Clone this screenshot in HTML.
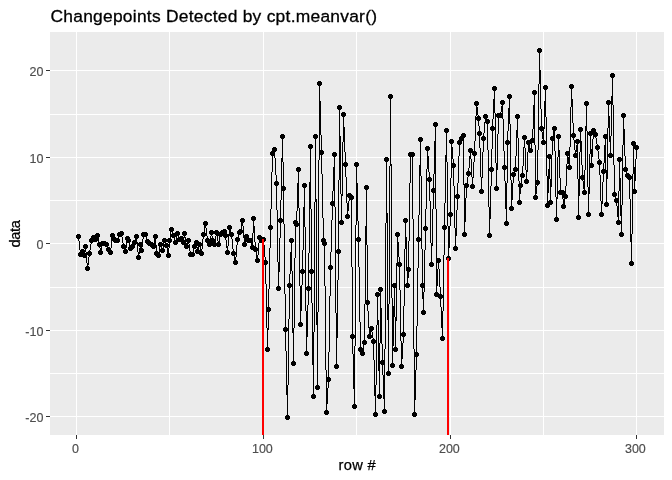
<!DOCTYPE html>
<html lang="en"><head><meta charset="utf-8"><title>Changepoints Detected by cpt.meanvar()</title>
<style>html,body{margin:0;padding:0;background:#fff;overflow:hidden}svg{display:block}text{font-family:"Liberation Sans",Arial,sans-serif}</style></head><body>
<svg width="672" height="480" viewBox="0 0 672 480">
<rect width="672" height="480" fill="#fff"/>
<rect x="50" y="32" width="614" height="403" fill="#ebebeb"/>
<path fill="#fff" d="M50 373h614v1h-614zM50 287h614v1h-614zM50 200h614v1h-614zM50 114h614v1h-614zM50 416h614v1h-614zM50 330h614v1h-614zM50 243h614v1h-614zM50 157h614v1h-614zM50 70h614v1h-614zM169 32h1v403h-1zM356 32h1v403h-1zM543 32h1v403h-1zM76 32h1v403h-1zM263 32h1v403h-1zM450 32h1v403h-1zM636 32h1v403h-1z"/>
<path fill="#000" d="M78 236h1v5h-1zM79 241h1v9h-1zM80 250h1v5h-1zM81 252h1v2h-1zM82 251h1v1h-1zM83 252h1v2h-1zM84 251h1v5h-1zM85 246h1v6h-1zM86 252h1v11h-1zM87 263h1v6h-1zM88 257h1v8h-1zM89 250h1v7h-1zM90 244h1v6h-1zM91 240h1v4h-1zM92 238h1v2h-1zM93 237h1v1h-1zM94 238h1v1h-1zM95 239h1v1h-1zM96 237h1v2h-1zM97 235h1v3h-1zM98 238h1v4h-1zM99 242h1v6h-1zM100 248h1v5h-1zM101 246h1v4h-1zM102 243h1v3h-1zM103 243h1v1h-1zM104 243h1v1h-1zM105 244h1v1h-1zM106 244h1v2h-1zM107 246h1v2h-1zM108 248h1v2h-1zM109 250h1v2h-1zM110 248h1v5h-1zM111 240h1v8h-1zM112 235h1v5h-1zM113 237h1v2h-1zM114 239h1v1h-1zM115 240h1v1h-1zM116 240h1v1h-1zM117 239h1v2h-1zM118 236h1v3h-1zM119 234h1v2h-1zM120 233h1v1h-1zM121 233h1v4h-1zM122 237h1v6h-1zM123 243h1v5h-1zM124 248h1v2h-1zM125 248h1v4h-1zM126 242h1v6h-1zM127 238h1v4h-1zM128 239h1v3h-1zM129 242h1v4h-1zM130 246h1v3h-1zM131 247h1v1h-1zM132 246h1v1h-1zM133 244h1v2h-1zM134 241h1v3h-1zM135 238h1v3h-1zM136 236h1v6h-1zM137 242h1v10h-1zM138 252h1v6h-1zM139 248h1v6h-1zM140 244h1v4h-1zM141 247h1v4h-1zM142 239h1v8h-1zM143 234h1v5h-1zM144 234h1v1h-1zM145 234h1v2h-1zM146 236h1v4h-1zM147 240h1v2h-1zM148 242h1v1h-1zM149 243h1v1h-1zM150 244h1v1h-1zM151 244h1v1h-1zM152 245h1v1h-1zM153 244h1v3h-1zM154 239h1v5h-1zM155 236h1v9h-1zM156 245h1v9h-1zM157 254h1v1h-1zM158 253h1v3h-1zM159 247h1v6h-1zM160 244h1v3h-1zM161 246h1v3h-1zM162 248h1v3h-1zM163 243h1v5h-1zM164 240h1v3h-1zM165 242h1v2h-1zM166 244h1v4h-1zM167 248h1v5h-1zM168 248h1v8h-1zM169 238h1v10h-1zM170 232h1v6h-1zM171 229h1v3h-1zM172 231h1v3h-1zM173 234h1v3h-1zM174 237h1v4h-1zM175 240h1v3h-1zM176 236h1v4h-1zM177 233h1v3h-1zM178 235h1v3h-1zM179 238h1v2h-1zM180 238h1v1h-1zM181 238h1v1h-1zM182 239h1v2h-1zM183 238h1v5h-1zM184 233h1v5h-1zM185 237h1v6h-1zM186 243h1v4h-1zM187 242h1v3h-1zM188 240h1v4h-1zM189 244h1v7h-1zM190 251h1v4h-1zM191 254h1v1h-1zM192 253h1v2h-1zM193 249h1v4h-1zM194 246h1v3h-1zM195 244h1v2h-1zM196 242h1v5h-1zM197 247h1v5h-1zM198 246h1v4h-1zM199 244h1v3h-1zM200 247h1v4h-1zM201 249h1v5h-1zM202 239h1v10h-1zM203 232h1v7h-1zM204 226h1v6h-1zM205 223h1v5h-1zM206 228h1v8h-1zM207 236h1v5h-1zM208 241h1v2h-1zM209 242h1v3h-1zM210 236h1v6h-1zM211 232h1v4h-1zM212 236h1v5h-1zM213 241h1v2h-1zM214 242h1v3h-1zM215 236h1v6h-1zM216 232h1v4h-1zM217 235h1v6h-1zM218 241h1v4h-1zM219 237h1v5h-1zM220 234h1v3h-1zM221 233h1v1h-1zM222 232h1v1h-1zM223 231h1v1h-1zM224 231h1v2h-1zM225 233h1v7h-1zM226 240h1v8h-1zM227 246h1v7h-1zM228 234h1v12h-1zM229 227h1v7h-1zM230 229h1v4h-1zM231 233h1v6h-1zM232 239h1v10h-1zM233 249h1v7h-1zM234 256h1v4h-1zM235 257h1v6h-1zM236 245h1v12h-1zM237 238h1v7h-1zM238 234h1v4h-1zM239 232h1v2h-1zM240 229h1v3h-1zM241 223h1v6h-1zM242 220h1v6h-1zM243 226h1v12h-1zM244 238h1v7h-1zM245 239h1v4h-1zM246 236h1v3h-1zM247 237h1v2h-1zM248 239h1v2h-1zM249 240h1v1h-1zM250 240h1v2h-1zM251 242h1v4h-1zM252 233h1v15h-1zM253 218h1v15h-1zM254 226h1v16h-1zM255 242h1v10h-1zM256 252h1v6h-1zM257 255h1v6h-1zM258 243h1v12h-1zM259 237h1v6h-1zM260 238h1v2h-1zM261 240h1v1h-1zM262 239h1v1h-1zM263 239h1v6h-1zM264 245h1v12h-1zM265 257h1v27h-1zM266 284h1v44h-1zM267 328h1v22h-1zM268 289h1v41h-1zM269 248h1v41h-1zM270 209h1v39h-1zM271 172h1v37h-1zM272 153h1v19h-1zM273 151h1v2h-1zM274 149h1v9h-1zM275 158h1v17h-1zM276 175h1v35h-1zM277 210h1v52h-1zM278 262h1v27h-1zM279 238h1v34h-1zM280 200h1v38h-1zM281 158h1v42h-1zM282 136h1v26h-1zM283 162h1v62h-1zM284 224h1v70h-1zM285 294h1v57h-1zM286 351h1v44h-1zM287 385h1v33h-1zM288 319h1v66h-1zM289 274h1v45h-1zM290 252h1v22h-1zM291 240h1v31h-1zM292 271h1v62h-1zM293 328h1v36h-1zM294 258h1v70h-1zM295 222h1v36h-1zM296 211h1v14h-1zM297 183h1v28h-1zM298 169h1v39h-1zM299 208h1v78h-1zM300 286h1v39h-1zM301 285h1v26h-1zM302 250h1v35h-1zM303 207h1v43h-1zM304 185h1v42h-1zM305 227h1v84h-1zM306 311h1v43h-1zM307 305h1v32h-1zM308 253h1v52h-1zM309 182h1v71h-1zM310 146h1v63h-1zM311 209h1v94h-1zM312 303h1v62h-1zM313 332h1v65h-1zM314 202h1v130h-1zM315 136h1v66h-1zM316 199h1v126h-1zM317 312h1v76h-1zM318 160h1v152h-1zM319 83h1v77h-1zM320 101h1v34h-1zM321 135h1v39h-1zM322 174h1v44h-1zM323 218h1v24h-1zM324 242h1v44h-1zM325 286h1v84h-1zM326 370h1v43h-1zM327 388h1v16h-1zM328 352h1v36h-1zM329 296h1v56h-1zM330 252h1v44h-1zM331 220h1v32h-1zM332 191h1v29h-1zM333 167h1v24h-1zM334 154h1v53h-1zM335 207h1v106h-1zM336 313h1v54h-1zM337 280h1v58h-1zM338 180h1v100h-1zM339 107h1v73h-1zM340 136h1v58h-1zM341 194h1v29h-1zM342 142h1v54h-1zM343 114h1v28h-1zM344 127h1v25h-1zM345 152h1v25h-1zM346 177h1v26h-1zM347 203h1v14h-1zM348 201h1v10h-1zM349 195h1v6h-1zM350 196h1v1h-1zM351 197h1v70h-1zM352 267h1v87h-1zM353 354h1v35h-1zM354 346h1v61h-1zM355 225h1v121h-1zM356 164h1v61h-1zM357 183h1v38h-1zM358 221h1v46h-1zM359 267h1v55h-1zM360 322h1v28h-1zM361 350h1v2h-1zM362 351h1v3h-1zM363 345h1v6h-1zM364 304h1v41h-1zM365 226h1v78h-1zM366 187h1v58h-1zM367 245h1v66h-1zM368 311h1v17h-1zM369 328h1v9h-1zM370 331h1v4h-1zM371 328h1v4h-1zM372 332h1v6h-1zM373 338h1v22h-1zM374 360h1v36h-1zM375 385h1v30h-1zM376 325h1v60h-1zM377 294h1v31h-1zM378 320h1v51h-1zM379 343h1v54h-1zM380 289h1v54h-1zM381 308h1v36h-1zM382 344h1v31h-1zM383 375h1v24h-1zM384 349h1v63h-1zM385 223h1v126h-1zM386 159h1v64h-1zM387 213h1v107h-1zM388 304h1v70h-1zM389 166h1v138h-1zM390 96h1v70h-1zM391 164h1v134h-1zM392 298h1v68h-1zM393 306h1v40h-1zM394 285h1v32h-1zM395 317h1v33h-1zM396 263h1v58h-1zM397 234h1v29h-1zM398 242h1v15h-1zM399 257h1v33h-1zM400 290h1v51h-1zM401 341h1v26h-1zM402 343h1v16h-1zM403 306h1v37h-1zM404 249h1v57h-1zM405 220h1v29h-1zM406 237h1v32h-1zM407 269h1v17h-1zM408 241h1v37h-1zM409 183h1v58h-1zM410 154h1v29h-1zM411 154h1v1h-1zM412 154h1v65h-1zM413 219h1v130h-1zM414 349h1v66h-1zM415 370h1v30h-1zM416 326h1v44h-1zM417 268h1v58h-1zM418 215h1v53h-1zM419 165h1v50h-1zM420 139h1v37h-1zM421 176h1v73h-1zM422 249h1v50h-1zM423 292h1v21h-1zM424 250h1v42h-1zM425 209h1v41h-1zM426 169h1v40h-1zM427 148h1v21h-1zM428 156h1v16h-1zM429 172h1v29h-1zM430 201h1v42h-1zM431 243h1v22h-1zM432 209h1v37h-1zM433 174h1v35h-1zM434 141h1v33h-1zM435 124h1v85h-1zM436 209h1v86h-1zM437 269h1v17h-1zM438 260h1v9h-1zM439 269h1v18h-1zM440 287h1v20h-1zM441 307h1v21h-1zM442 311h1v28h-1zM443 255h1v56h-1zM444 203h1v52h-1zM445 155h1v48h-1zM446 130h1v32h-1zM447 162h1v64h-1zM448 226h1v33h-1zM449 226h1v22h-1zM450 178h1v48h-1zM451 141h1v37h-1zM452 147h1v12h-1zM453 159h1v27h-1zM454 186h1v42h-1zM455 228h1v21h-1zM456 210h1v26h-1zM457 183h1v27h-1zM458 156h1v27h-1zM459 142h1v14h-1zM460 140h1v2h-1zM461 138h1v2h-1zM462 136h1v2h-1zM463 135h1v50h-1zM464 185h1v50h-1zM465 198h1v24h-1zM466 183h1v15h-1zM467 177h1v6h-1zM468 168h1v9h-1zM469 156h1v12h-1zM470 150h1v9h-1zM471 159h1v18h-1zM472 177h1v10h-1zM473 162h1v16h-1zM474 141h1v21h-1zM475 116h1v25h-1zM476 103h1v13h-1zM477 107h1v8h-1zM478 115h1v11h-1zM479 126h1v22h-1zM480 148h1v29h-1zM481 177h1v15h-1zM482 152h1v26h-1zM483 133h1v19h-1zM484 122h1v11h-1zM485 116h1v6h-1zM486 118h1v2h-1zM487 120h1v30h-1zM488 150h1v57h-1zM489 207h1v29h-1zM490 186h1v33h-1zM491 149h1v37h-1zM492 119h1v30h-1zM493 99h1v20h-1zM494 88h1v25h-1zM495 113h1v50h-1zM496 163h1v26h-1zM497 134h1v36h-1zM498 115h1v19h-1zM499 115h1v1h-1zM500 112h1v4h-1zM501 106h1v6h-1zM502 102h1v17h-1zM503 119h1v32h-1zM504 151h1v30h-1zM505 181h1v28h-1zM506 183h1v41h-1zM507 131h1v52h-1zM508 108h1v23h-1zM509 96h1v28h-1zM510 124h1v56h-1zM511 180h1v29h-1zM512 183h1v17h-1zM513 173h1v10h-1zM514 171h1v2h-1zM515 156h1v15h-1zM516 130h1v26h-1zM517 116h1v22h-1zM518 138h1v43h-1zM519 181h1v22h-1zM520 183h1v11h-1zM521 178h1v5h-1zM522 166h1v12h-1zM523 147h1v19h-1zM524 137h1v11h-1zM525 148h1v22h-1zM526 170h1v12h-1zM527 152h1v20h-1zM528 142h1v10h-1zM529 144h1v4h-1zM530 148h1v3h-1zM531 143h1v5h-1zM532 129h1v14h-1zM533 105h1v24h-1zM534 92h1v53h-1zM535 145h1v53h-1zM536 186h1v8h-1zM537 150h1v36h-1zM538 84h1v66h-1zM539 50h1v34h-1zM540 70h1v39h-1zM541 109h1v23h-1zM542 132h1v7h-1zM543 129h1v14h-1zM544 101h1v28h-1zM545 87h1v30h-1zM546 117h1v59h-1zM547 176h1v30h-1zM548 169h1v24h-1zM549 156h1v23h-1zM550 179h1v24h-1zM551 155h1v32h-1zM552 136h1v19h-1zM553 131h1v5h-1zM554 128h1v23h-1zM555 151h1v46h-1zM556 197h1v23h-1zM557 157h1v42h-1zM558 136h1v21h-1zM559 150h1v28h-1zM560 178h1v15h-1zM561 192h1v1h-1zM562 192h1v7h-1zM563 199h1v8h-1zM564 199h1v5h-1zM565 186h1v13h-1zM566 164h1v22h-1zM567 153h1v11h-1zM568 157h1v7h-1zM569 147h1v21h-1zM570 107h1v40h-1zM571 86h1v21h-1zM572 99h1v24h-1zM573 123h1v17h-1zM574 140h1v10h-1zM575 150h1v6h-1zM576 145h1v7h-1zM577 141h1v38h-1zM578 179h1v39h-1zM579 152h1v44h-1zM580 129h1v23h-1zM581 141h1v24h-1zM582 165h1v16h-1zM583 181h1v8h-1zM584 170h1v23h-1zM585 126h1v44h-1zM586 103h1v28h-1zM587 131h1v56h-1zM588 187h1v28h-1zM589 154h1v40h-1zM590 133h1v21h-1zM591 149h1v17h-1zM592 139h1v18h-1zM593 130h1v9h-1zM594 131h1v2h-1zM595 133h1v5h-1zM596 138h1v6h-1zM597 144h1v7h-1zM598 151h1v8h-1zM599 159h1v16h-1zM600 175h1v26h-1zM601 201h1v14h-1zM602 182h1v22h-1zM603 163h1v19h-1zM604 145h1v18h-1zM605 136h1v34h-1zM606 170h1v35h-1zM607 128h1v51h-1zM608 102h1v26h-1zM609 116h1v26h-1zM610 136h1v20h-1zM611 96h1v40h-1zM612 75h1v30h-1zM613 105h1v60h-1zM614 165h1v31h-1zM615 196h1v3h-1zM616 199h1v7h-1zM617 206h1v11h-1zM618 191h1v32h-1zM619 159h1v32h-1zM620 178h1v38h-1zM621 205h1v30h-1zM622 145h1v60h-1zM623 115h1v30h-1zM624 129h1v27h-1zM625 156h1v15h-1zM626 171h1v3h-1zM627 174h1v2h-1zM628 176h1v1h-1zM629 177h1v22h-1zM630 199h1v43h-1zM631 234h1v30h-1zM632 174h1v60h-1zM633 143h1v31h-1zM634 167h1v25h-1zM635 159h1v22h-1zM636 147h1v12h-1z"/>
<path fill="#000" d="M76 235h5v3h-5zM77 234h3v5h-3zM78 253h5v3h-5zM79 252h3v5h-3zM80 250h5v3h-5zM81 249h3v5h-3zM82 254h5v3h-5zM83 253h3v5h-3zM83 245h5v3h-5zM84 244h3v5h-3zM85 267h5v3h-5zM86 266h3v5h-3zM87 252h5v3h-5zM88 251h3v5h-3zM89 239h5v3h-5zM90 238h3v5h-3zM91 236h5v3h-5zM92 235h3v5h-3zM93 238h5v3h-5zM94 237h3v5h-3zM95 234h5v3h-5zM96 233h3v5h-3zM97 243h5v3h-5zM98 242h3v5h-3zM98 251h5v3h-5zM99 250h3v5h-3zM100 242h5v3h-5zM101 241h3v5h-3zM102 242h5v3h-5zM103 241h3v5h-3zM104 243h5v3h-5zM105 242h3v5h-3zM106 248h5v3h-5zM107 247h3v5h-3zM108 251h5v3h-5zM109 250h3v5h-3zM110 234h5v3h-5zM111 233h3v5h-3zM111 237h5v3h-5zM112 236h3v5h-3zM113 239h5v3h-5zM114 238h3v5h-3zM115 239h5v3h-5zM116 238h3v5h-3zM117 233h5v3h-5zM118 232h3v5h-3zM119 232h5v3h-5zM120 231h3v5h-3zM121 245h5v3h-5zM122 244h3v5h-3zM123 250h5v3h-5zM124 249h3v5h-3zM125 237h5v3h-5zM126 236h3v5h-3zM126 239h5v3h-5zM127 238h3v5h-3zM128 247h5v3h-5zM129 246h3v5h-3zM130 245h5v3h-5zM131 244h3v5h-3zM132 241h5v3h-5zM133 240h3v5h-3zM134 235h5v3h-5zM135 234h3v5h-3zM136 256h5v3h-5zM137 255h3v5h-3zM138 243h5v3h-5zM139 242h3v5h-3zM139 249h5v3h-5zM140 248h3v5h-3zM141 233h5v3h-5zM142 232h3v5h-3zM143 233h5v3h-5zM144 232h3v5h-3zM145 240h5v3h-5zM146 239h3v5h-3zM147 242h5v3h-5zM148 241h3v5h-3zM149 243h5v3h-5zM150 242h3v5h-3zM151 245h5v3h-5zM152 244h3v5h-3zM153 235h5v3h-5zM154 234h3v5h-3zM154 252h5v3h-5zM155 251h3v5h-3zM156 254h5v3h-5zM157 253h3v5h-3zM158 243h5v3h-5zM159 242h3v5h-3zM160 249h5v3h-5zM161 248h3v5h-3zM162 239h5v3h-5zM163 238h3v5h-3zM164 244h5v3h-5zM165 243h3v5h-3zM166 254h5v3h-5zM167 253h3v5h-3zM167 239h5v3h-5zM168 238h3v5h-3zM169 228h5v3h-5zM170 227h3v5h-3zM171 234h5v3h-5zM172 233h3v5h-3zM173 241h5v3h-5zM174 240h3v5h-3zM175 232h5v3h-5zM176 231h3v5h-3zM177 238h5v3h-5zM178 237h3v5h-3zM179 237h5v3h-5zM180 236h3v5h-3zM181 241h5v3h-5zM182 240h3v5h-3zM182 232h5v3h-5zM183 231h3v5h-3zM184 245h5v3h-5zM185 244h3v5h-3zM186 239h5v3h-5zM187 238h3v5h-3zM188 253h5v3h-5zM189 252h3v5h-3zM190 253h5v3h-5zM191 252h3v5h-3zM192 245h5v3h-5zM193 244h3v5h-3zM194 241h5v3h-5zM195 240h3v5h-3zM195 250h5v3h-5zM196 249h3v5h-3zM197 243h5v3h-5zM198 242h3v5h-3zM199 252h5v3h-5zM200 251h3v5h-3zM201 233h5v3h-5zM202 232h3v5h-3zM203 222h5v3h-5zM204 221h3v5h-3zM205 239h5v3h-5zM206 238h3v5h-3zM207 243h5v3h-5zM208 242h3v5h-3zM209 231h5v3h-5zM210 230h3v5h-3zM210 239h5v3h-5zM211 238h3v5h-3zM212 243h5v3h-5zM213 242h3v5h-3zM214 231h5v3h-5zM215 230h3v5h-3zM216 243h5v3h-5zM217 242h3v5h-3zM218 233h5v3h-5zM219 232h3v5h-3zM220 231h5v3h-5zM221 230h3v5h-3zM222 230h5v3h-5zM223 229h3v5h-3zM223 234h5v3h-5zM224 233h3v5h-3zM225 251h5v3h-5zM226 250h3v5h-3zM227 226h5v3h-5zM228 225h3v5h-3zM229 233h5v3h-5zM230 232h3v5h-3zM231 252h5v3h-5zM232 251h3v5h-3zM233 261h5v3h-5zM234 260h3v5h-3zM235 238h5v3h-5zM236 237h3v5h-3zM237 231h5v3h-5zM238 230h3v5h-3zM238 230h5v3h-5zM239 229h3v5h-3zM240 219h5v3h-5zM241 218h3v5h-3zM242 243h5v3h-5zM243 242h3v5h-3zM244 235h5v3h-5zM245 234h3v5h-3zM246 239h5v3h-5zM247 238h3v5h-3zM248 239h5v3h-5zM249 238h3v5h-3zM250 246h5v3h-5zM251 245h3v5h-3zM251 217h5v3h-5zM252 216h3v5h-3zM253 248h5v3h-5zM254 247h3v5h-3zM255 259h5v3h-5zM256 258h3v5h-3zM257 236h5v3h-5zM258 235h3v5h-3zM259 239h5v3h-5zM260 238h3v5h-3zM261 238h5v3h-5zM262 237h3v5h-3zM263 261h5v3h-5zM264 260h3v5h-3zM265 348h5v3h-5zM266 347h3v5h-3zM266 308h5v3h-5zM267 307h3v5h-3zM268 226h5v3h-5zM269 225h3v5h-3zM270 152h5v3h-5zM271 151h3v5h-3zM272 148h5v3h-5zM273 147h3v5h-3zM274 182h5v3h-5zM275 181h3v5h-3zM276 287h5v3h-5zM277 286h3v5h-3zM278 219h5v3h-5zM279 218h3v5h-3zM280 135h5v3h-5zM281 134h3v5h-3zM281 187h5v3h-5zM282 186h3v5h-3zM283 328h5v3h-5zM284 327h3v5h-3zM285 416h5v3h-5zM286 415h3v5h-3zM287 284h5v3h-5zM288 283h3v5h-3zM289 239h5v3h-5zM290 238h3v5h-3zM291 362h5v3h-5zM292 361h3v5h-3zM293 221h5v3h-5zM294 220h3v5h-3zM294 223h5v3h-5zM295 222h3v5h-3zM296 168h5v3h-5zM297 167h3v5h-3zM298 323h5v3h-5zM299 322h3v5h-3zM300 270h5v3h-5zM301 269h3v5h-3zM302 184h5v3h-5zM303 183h3v5h-3zM304 352h5v3h-5zM305 351h3v5h-3zM306 287h5v3h-5zM307 286h3v5h-3zM308 145h5v3h-5zM309 144h3v5h-3zM309 270h5v3h-5zM310 269h3v5h-3zM311 395h5v3h-5zM312 394h3v5h-3zM313 135h5v3h-5zM314 134h3v5h-3zM315 386h5v3h-5zM316 385h3v5h-3zM317 82h5v3h-5zM318 81h3v5h-3zM319 151h5v3h-5zM320 150h3v5h-3zM321 239h5v3h-5zM322 238h3v5h-3zM322 242h5v3h-5zM323 241h3v5h-3zM324 411h5v3h-5zM325 410h3v5h-3zM326 378h5v3h-5zM327 377h3v5h-3zM328 266h5v3h-5zM329 265h3v5h-3zM330 202h5v3h-5zM331 201h3v5h-3zM332 153h5v3h-5zM333 152h3v5h-3zM334 365h5v3h-5zM335 364h3v5h-3zM336 250h5v3h-5zM337 249h3v5h-3zM337 106h5v3h-5zM338 105h3v5h-3zM339 221h5v3h-5zM340 220h3v5h-3zM341 113h5v3h-5zM342 112h3v5h-3zM343 163h5v3h-5zM344 162h3v5h-3zM345 215h5v3h-5zM346 214h3v5h-3zM347 194h5v3h-5zM348 193h3v5h-3zM349 196h5v3h-5zM350 195h3v5h-3zM350 335h5v3h-5zM351 334h3v5h-3zM352 405h5v3h-5zM353 404h3v5h-3zM354 163h5v3h-5zM355 162h3v5h-3zM356 238h5v3h-5zM357 237h3v5h-3zM358 348h5v3h-5zM359 347h3v5h-3zM360 352h5v3h-5zM361 351h3v5h-3zM362 341h5v3h-5zM363 340h3v5h-3zM364 186h5v3h-5zM365 185h3v5h-3zM365 301h5v3h-5zM366 300h3v5h-3zM367 335h5v3h-5zM368 334h3v5h-3zM369 327h5v3h-5zM370 326h3v5h-3zM371 340h5v3h-5zM372 339h3v5h-3zM373 413h5v3h-5zM374 412h3v5h-3zM375 293h5v3h-5zM376 292h3v5h-3zM377 395h5v3h-5zM378 394h3v5h-3zM378 288h5v3h-5zM379 287h3v5h-3zM380 361h5v3h-5zM381 360h3v5h-3zM382 410h5v3h-5zM383 409h3v5h-3zM384 158h5v3h-5zM385 157h3v5h-3zM386 372h5v3h-5zM387 371h3v5h-3zM388 95h5v3h-5zM389 94h3v5h-3zM390 364h5v3h-5zM391 363h3v5h-3zM392 284h5v3h-5zM393 283h3v5h-3zM393 348h5v3h-5zM394 347h3v5h-3zM395 233h5v3h-5zM396 232h3v5h-3zM397 263h5v3h-5zM398 262h3v5h-3zM399 365h5v3h-5zM400 364h3v5h-3zM401 333h5v3h-5zM402 332h3v5h-3zM403 219h5v3h-5zM404 218h3v5h-3zM405 284h5v3h-5zM406 283h3v5h-3zM406 268h5v3h-5zM407 267h3v5h-3zM408 153h5v3h-5zM409 152h3v5h-3zM410 153h5v3h-5zM411 152h3v5h-3zM412 413h5v3h-5zM413 412h3v5h-3zM414 353h5v3h-5zM415 352h3v5h-3zM416 238h5v3h-5zM417 237h3v5h-3zM418 138h5v3h-5zM419 137h3v5h-3zM420 284h5v3h-5zM421 283h3v5h-3zM421 311h5v3h-5zM422 310h3v5h-3zM423 227h5v3h-5zM424 226h3v5h-3zM425 147h5v3h-5zM426 146h3v5h-3zM427 178h5v3h-5zM428 177h3v5h-3zM429 263h5v3h-5zM430 262h3v5h-3zM431 189h5v3h-5zM432 188h3v5h-3zM433 123h5v3h-5zM434 122h3v5h-3zM434 293h5v3h-5zM435 292h3v5h-3zM436 259h5v3h-5zM437 258h3v5h-3zM438 295h5v3h-5zM439 294h3v5h-3zM440 337h5v3h-5zM441 336h3v5h-3zM442 226h5v3h-5zM443 225h3v5h-3zM444 129h5v3h-5zM445 128h3v5h-3zM446 257h5v3h-5zM447 256h3v5h-3zM448 213h5v3h-5zM449 212h3v5h-3zM449 140h5v3h-5zM450 139h3v5h-3zM451 164h5v3h-5zM452 163h3v5h-3zM453 247h5v3h-5zM454 246h3v5h-3zM455 195h5v3h-5zM456 194h3v5h-3zM457 141h5v3h-5zM458 140h3v5h-3zM459 137h5v3h-5zM460 136h3v5h-3zM461 134h5v3h-5zM462 133h3v5h-3zM462 233h5v3h-5zM463 232h3v5h-3zM464 184h5v3h-5zM465 183h3v5h-3zM466 172h5v3h-5zM467 171h3v5h-3zM468 149h5v3h-5zM469 148h3v5h-3zM470 185h5v3h-5zM471 184h3v5h-3zM472 152h5v3h-5zM473 151h3v5h-3zM474 102h5v3h-5zM475 101h3v5h-3zM476 117h5v3h-5zM477 116h3v5h-3zM477 132h5v3h-5zM478 131h3v5h-3zM479 190h5v3h-5zM480 189h3v5h-3zM481 137h5v3h-5zM482 136h3v5h-3zM483 115h5v3h-5zM484 114h3v5h-3zM485 120h5v3h-5zM486 119h3v5h-3zM487 234h5v3h-5zM488 233h3v5h-3zM489 168h5v3h-5zM490 167h3v5h-3zM490 127h5v3h-5zM491 126h3v5h-3zM492 87h5v3h-5zM493 86h3v5h-3zM494 187h5v3h-5zM495 186h3v5h-3zM496 114h5v3h-5zM497 113h3v5h-3zM498 114h5v3h-5zM499 113h3v5h-3zM500 101h5v3h-5zM501 100h3v5h-3zM502 166h5v3h-5zM503 165h3v5h-3zM504 222h5v3h-5zM505 221h3v5h-3zM505 141h5v3h-5zM506 140h3v5h-3zM507 95h5v3h-5zM508 94h3v5h-3zM509 207h5v3h-5zM510 206h3v5h-3zM511 173h5v3h-5zM512 172h3v5h-3zM513 168h5v3h-5zM514 167h3v5h-3zM515 115h5v3h-5zM516 114h3v5h-3zM517 201h5v3h-5zM518 200h3v5h-3zM518 184h5v3h-5zM519 183h3v5h-3zM520 174h5v3h-5zM521 173h3v5h-3zM522 136h5v3h-5zM523 135h3v5h-3zM524 180h5v3h-5zM525 179h3v5h-3zM526 141h5v3h-5zM527 140h3v5h-3zM528 149h5v3h-5zM529 148h3v5h-3zM530 139h5v3h-5zM531 138h3v5h-3zM532 91h5v3h-5zM533 90h3v5h-3zM533 196h5v3h-5zM534 195h3v5h-3zM535 181h5v3h-5zM536 180h3v5h-3zM537 49h5v3h-5zM538 48h3v5h-3zM539 127h5v3h-5zM540 126h3v5h-3zM541 141h5v3h-5zM542 140h3v5h-3zM543 86h5v3h-5zM544 85h3v5h-3zM545 204h5v3h-5zM546 203h3v5h-3zM547 155h5v3h-5zM548 154h3v5h-3zM548 201h5v3h-5zM549 200h3v5h-3zM550 137h5v3h-5zM551 136h3v5h-3zM552 127h5v3h-5zM553 126h3v5h-3zM554 218h5v3h-5zM555 217h3v5h-3zM556 135h5v3h-5zM557 134h3v5h-3zM558 191h5v3h-5zM559 190h3v5h-3zM560 191h5v3h-5zM561 190h3v5h-3zM561 205h5v3h-5zM562 204h3v5h-3zM563 195h5v3h-5zM564 194h3v5h-3zM565 152h5v3h-5zM566 151h3v5h-3zM567 166h5v3h-5zM568 165h3v5h-3zM569 85h5v3h-5zM570 84h3v5h-3zM571 134h5v3h-5zM572 133h3v5h-3zM573 154h5v3h-5zM574 153h3v5h-3zM575 140h5v3h-5zM576 139h3v5h-3zM576 216h5v3h-5zM577 215h3v5h-3zM578 128h5v3h-5zM579 127h3v5h-3zM580 176h5v3h-5zM581 175h3v5h-3zM582 191h5v3h-5zM583 190h3v5h-3zM584 102h5v3h-5zM585 101h3v5h-3zM586 213h5v3h-5zM587 212h3v5h-3zM588 132h5v3h-5zM589 131h3v5h-3zM589 164h5v3h-5zM590 163h3v5h-3zM591 129h5v3h-5zM592 128h3v5h-3zM593 133h5v3h-5zM594 132h3v5h-3zM595 146h5v3h-5zM596 145h3v5h-3zM597 161h5v3h-5zM598 160h3v5h-3zM599 213h5v3h-5zM600 212h3v5h-3zM601 170h5v3h-5zM602 169h3v5h-3zM603 135h5v3h-5zM604 134h3v5h-3zM604 203h5v3h-5zM605 202h3v5h-3zM606 101h5v3h-5zM607 100h3v5h-3zM608 154h5v3h-5zM609 153h3v5h-3zM610 74h5v3h-5zM611 73h3v5h-3zM612 193h5v3h-5zM613 192h3v5h-3zM614 199h5v3h-5zM615 198h3v5h-3zM616 221h5v3h-5zM617 220h3v5h-3zM617 158h5v3h-5zM618 157h3v5h-3zM619 233h5v3h-5zM620 232h3v5h-3zM621 114h5v3h-5zM622 113h3v5h-3zM623 168h5v3h-5zM624 167h3v5h-3zM625 174h5v3h-5zM626 173h3v5h-3zM627 176h5v3h-5zM628 175h3v5h-3zM629 262h5v3h-5zM630 261h3v5h-3zM631 142h5v3h-5zM632 141h3v5h-3zM632 190h5v3h-5zM633 189h3v5h-3zM634 146h5v3h-5zM635 145h3v5h-3z"/>
<rect x="262" y="239" width="2" height="196" fill="#ff0000"/>
<rect x="447" y="258" width="2" height="177" fill="#ff0000"/>
<path fill="#333" d="M46 416h4v1h-4zM46 330h4v1h-4zM46 243h4v1h-4zM46 157h4v1h-4zM46 70h4v1h-4zM76 435h1v4h-1zM263 435h1v4h-1zM450 435h1v4h-1zM636 435h1v4h-1z"/>
<g fill="#4d4d4d" stroke="#4d4d4d" stroke-width="0.15" font-size="12.5px">
<text x="43.4" y="421.70" text-anchor="end">-20</text>
<text x="43.4" y="335.70" text-anchor="end">-10</text>
<text x="43.4" y="248.70" text-anchor="end">0</text>
<text x="43.4" y="162.70" text-anchor="end">10</text>
<text x="43.4" y="75.70" text-anchor="end">20</text>
<text x="75.40" y="452.7" text-anchor="middle">0</text>
<text x="262.40" y="452.7" text-anchor="middle">100</text>
<text x="449.40" y="452.7" text-anchor="middle">200</text>
<text x="635.40" y="452.7" text-anchor="middle">300</text>
</g>
<text x="338.6" y="469.7" font-size="14.67px" fill="#000" stroke="#000" stroke-width="0.25" textLength="37" lengthAdjust="spacing">row #</text>
<text transform="translate(20.3,247.4) rotate(-90)" font-size="14.67px" fill="#000" stroke="#000" stroke-width="0.25" textLength="27.2" lengthAdjust="spacing">data</text>
<text x="50.5" y="21.5" font-size="17.4px" fill="#000" stroke="#000" stroke-width="0.3" textLength="326.5" lengthAdjust="spacing">Changepoints Detected by cpt.meanvar()</text>
</svg></body></html>
